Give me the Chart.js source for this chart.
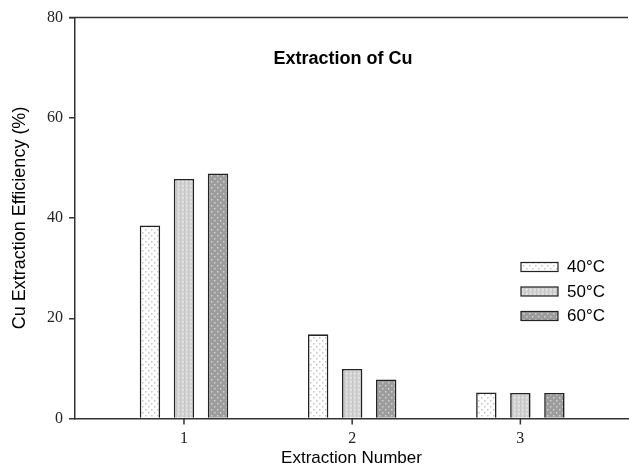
<!DOCTYPE html>
<html>
<head>
<meta charset="utf-8">
<script src="https://cdn.jsdelivr.net/npm/chart.js@4/dist/chart.umd.min.js"></script>
<style>
  html, body { margin: 0; padding: 0; background: #fff; }
  #wrap { width: 629px; height: 469px; }
</style>
</head>
<body>
<div id="wrap"><canvas id="myChart" width="629" height="469"></canvas></div>
<script>
// data
var extractions = [1, 2, 3];
var temps = ["40°C", "50°C", "60°C"];
var cu40 = [38.5, 16.8, 5.2];
var cu50 = [47.8, 9.9, 5.1];
var cu60 = [48.9, 7.8, 5.1];
var yTicks = [0, 20, 40, 60, 80];

// little fill patterns like the original hatching
function makePattern(bg, dot, size, dots, lines) {
  var c = document.createElement("canvas");
  c.width = size;
  c.height = size;
  var g = c.getContext("2d");
  g.fillStyle = bg;
  g.fillRect(0, 0, size, size);
  if (lines) {
    g.fillStyle = lines;
    g.fillRect(0, 0, 1, size);
  }
  g.fillStyle = dot;
  dots.forEach(function (d) {
    g.fillRect(d[0], d[1], 1.5, 1.5);
  });
  return g.createPattern(c, "repeat");
}
var ctx = document.getElementById("myChart").getContext("2d");
var fill40 = makePattern("#ffffff", "#c4c4c4", 6, [[1, 1], [4, 4]]);
var fill50 = makePattern("#d2d2d2", "#eaeaea", 4, [[2, 1]], "#c4c4c4");
var fill60 = makePattern("#9c9c9c", "#cfcfcf", 6, [[1, 1], [4, 4]]);
var fills = [fill40, fill50, fill60];

function pts(arr) {
  return arr.map(function (v, i) {
    return { x: extractions[i], y: v };
  });
}

// title inside the plot, top line, x tick marks and the legend on the right
var extras = {
  id: "extras",
  afterDraw: function (chart) {
    var c = chart.ctx;
    var a = chart.chartArea;
    var xs = chart.scales.x;
    c.save();
    c.strokeStyle = "#333";
    c.lineWidth = 1.5;
    c.beginPath();
    c.moveTo(a.left - 6, a.top);
    c.lineTo(a.right, a.top);
    c.stroke();

    c.fillStyle = "#333";
    extractions.forEach(function (v) {
      var px = xs.getPixelForValue(v);
      c.fillRect(px - 0.75, a.bottom, 1.5, 6);
    });

    c.fillStyle = "#000";
    c.font = "bold 18px 'Liberation Sans', Arial, sans-serif";
    c.textAlign = "center";
    c.textBaseline = "middle";
    c.fillText("Extraction of Cu", a.left + 268, a.top + 42);

    c.font = "17px 'Liberation Sans', Arial, sans-serif";
    c.textAlign = "left";
    chart.data.datasets.forEach(function (ds, i) {
      var x = a.left + 446;
      var y = a.top + 245 + i * 24.5;
      c.fillStyle = ds.backgroundColor;
      c.fillRect(x, y, 37, 9);
      c.strokeStyle = "#222";
      c.lineWidth = 1.2;
      c.strokeRect(x, y, 37, 9);
      c.fillStyle = "#000";
      c.fillText(ds.label, x + 46, y + 5);
    });
    c.restore();
  },
};

var axisFont = { family: "'Liberation Serif', 'Times New Roman', serif", size: 16 };
var titleFont = { family: "'Liberation Sans', Arial, sans-serif", size: 18 };

var myChart = new Chart(ctx, {
  type: "bar",
  data: {
    datasets: [
      { label: temps[0], data: pts(cu40), backgroundColor: fills[0] },
      { label: temps[1], data: pts(cu50), backgroundColor: fills[1] },
      { label: temps[2], data: pts(cu60), backgroundColor: fills[2] },
    ],
  },
  options: {
    responsive: false,
    animation: false,
    layout: { padding: { top: 17.5, right: 1, left: 0, bottom: 0 } },
    datasets: {
      bar: {
        borderColor: "#222",
        borderWidth: 1.6,
        barPercentage: 0.6,
        categoryPercentage: 0.607,
      },
    },
    plugins: {
      legend: { display: false },
      tooltip: { enabled: false },
    },
    scales: {
      x: {
        type: "linear",
        offset: false,
        min: 0.352,
        max: 3.64,
        afterBuildTicks: function (s) {
          s.ticks = extractions.map(function (v) { return { value: v }; });
        },
        afterFit: function (s) { s.height = 50.5; },
        grid: { display: false },
        border: { display: true, color: "#333", width: 1.5 },
        ticks: { font: axisFont, color: "#222", padding: 3, maxRotation: 0 },
        title: { display: true, text: "Extraction Number", font: { family: titleFont.family, size: 17 }, color: "#000", padding: { top: 0, bottom: 0 } },
      },
      y: {
        min: 0,
        max: 80,
        afterBuildTicks: function (s) {
          s.ticks = yTicks.map(function (v) { return { value: v }; });
        },
        afterFit: function (s) { s.width = 75; },
        grid: { drawOnChartArea: false, drawTicks: true, tickLength: 6, color: "#333", lineWidth: 1.5 },
        border: { display: true, color: "#333", width: 1.5 },
        ticks: { font: axisFont, color: "#222", padding: 6 },
        title: { display: true, text: "Cu Extraction Efficiency (%)", font: titleFont, color: "#000", padding: { top: 9, bottom: 0 } },
      },
    },
  },
  plugins: [extras],
});
</script>
</body>
</html>
